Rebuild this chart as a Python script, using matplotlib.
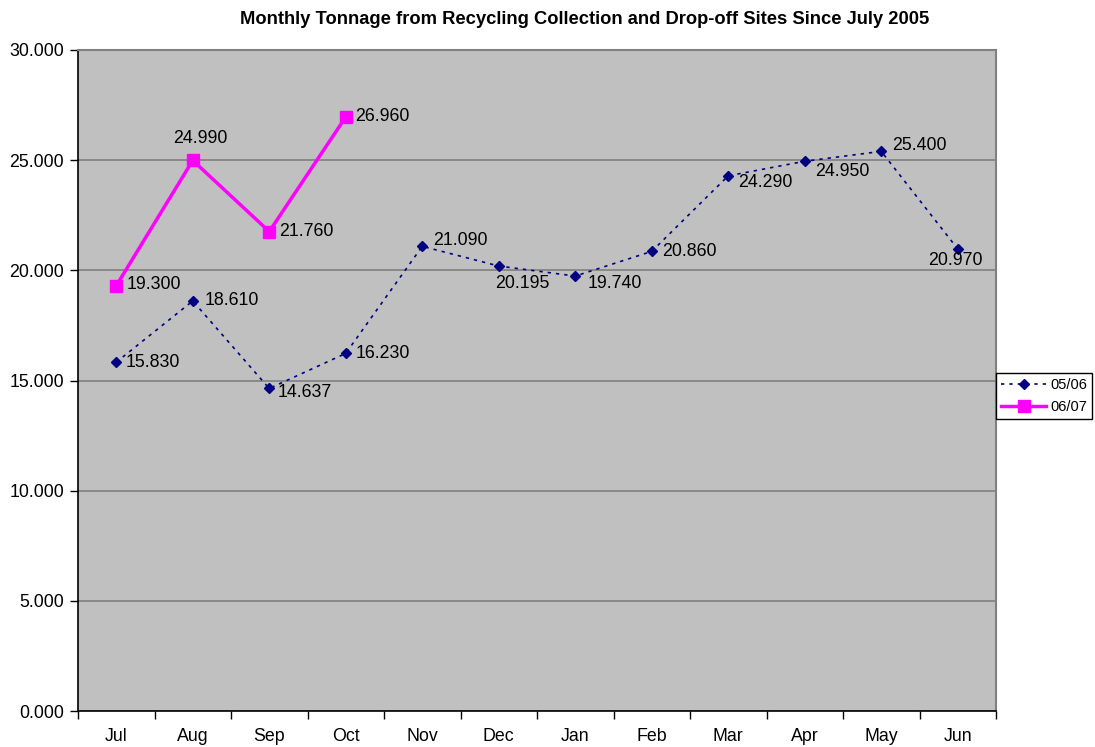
import matplotlib
matplotlib.use("Agg")
import matplotlib.pyplot as plt
from matplotlib.ticker import FixedLocator, NullFormatter, FuncFormatter

plt.rcParams['font.family'] = ['Liberation Sans', 'DejaVu Sans']

months = ["Jul", "Aug", "Sep", "Oct", "Nov", "Dec", "Jan", "Feb", "Mar", "Apr", "May", "Jun"]
s0506 = [15.830, 18.610, 14.637, 16.230, 21.090, 20.195, 19.740, 20.860, 24.290, 24.950, 25.400, 20.970]
s0607 = [19.300, 24.990, 21.760, 26.960]
labels0506 = ["15.830", "18.610", "14.637", "16.230", "21.090", "20.195", "19.740", "20.860",
              "24.290", "24.950", "25.400", "20.970"]
labels0607 = ["19.300", "24.990", "21.760", "26.960"]
yticks = [0, 5, 10, 15, 20, 25, 30]

# label offsets in pixels (dx, dy) and alignment
off0506 = [(9, 0, 'left'), (12, 0, 'left'), (8, -4, 'left'), (10, 0, 'left'),
           (11, 6, 'left'), (-4, -17, 'left'), (12, -7, 'left'), (10, 0, 'left'),
           (10, -7, 'left'), (10, -10, 'left'), (11, 6, 'left'), (-2, -12, 'center')]
off0607 = [(10, 1, 'left'), (8, 22, 'center'), (10, 0, 'left'), (9, 0, 'left')]

fig = plt.figure(figsize=(10.95, 7.47), dpi=100)
ax = fig.add_axes([78/1095, 1-711/747, (996-78)/1095, (711-50)/747])
ax.set_facecolor('#C0C0C0')

x = list(range(len(months)))
ax.plot(x, s0506, color='#000080', linestyle=(0, (2, 3)), linewidth=1.2,
        marker='D', markersize=5, label='05/06', zorder=3)
ax.plot(x[:len(s0607)], s0607, color='#FF00FF', linestyle='-', linewidth=2.5,
        marker='s', markersize=9, label='06/07', zorder=4)

fs = 12.8
for xi, yi, lab, (dx, dy, ha) in zip(x, s0506, labels0506, off0506):
    ax.annotate(lab, (xi, yi), xytext=(dx, dy), textcoords='offset pixels',
                ha=ha, va='center', fontsize=fs, color='black', zorder=5)
for xi, yi, lab, (dx, dy, ha) in zip(x, s0607, labels0607, off0607):
    ax.annotate(lab, (xi, yi), xytext=(dx, dy), textcoords='offset pixels',
                ha=ha, va='center', fontsize=fs, color='black', zorder=5)

ax.set_xlim(-0.5, len(months) - 0.5)
ax.set_ylim(0, 30)
ax.set_yticks(yticks)
ax.yaxis.set_major_formatter(FuncFormatter(lambda v, p: f"{v:.3f}"))
ax.yaxis.grid(True, color='#808080', linewidth=1.2)
ax.set_axisbelow(True)

ax.xaxis.set_major_locator(FixedLocator([i - 0.5 for i in range(len(months) + 1)]))
ax.xaxis.set_major_formatter(NullFormatter())
ax.xaxis.set_minor_locator(FixedLocator(x))
ax.set_xticklabels(months, minor=True)
ax.tick_params(axis='x', which='major', direction='out', length=6, width=1, color='black')
ax.tick_params(axis='x', which='minor', length=0, labelsize=fs, pad=12)
ax.tick_params(axis='y', direction='out', length=6, width=1, labelsize=fs, pad=4)

for sp in ['left', 'bottom']:
    ax.spines[sp].set_color('black')
    ax.spines[sp].set_linewidth(1.2)
for sp in ['top', 'right']:
    ax.spines[sp].set_color('#808080')
    ax.spines[sp].set_linewidth(1.5)

fig.text(585/1095, 1-19/747, "Monthly Tonnage from Recycling Collection and Drop-off Sites Since July 2005",
         ha='center', va='center', fontsize=13.2, fontweight='bold')

leg = fig.legend(loc='center left', bbox_to_anchor=(996/1095, 1-396/747), fontsize=10.5,
                 frameon=True, fancybox=False, edgecolor='black', framealpha=1,
                 handlelength=3.1, borderpad=0.35, labelspacing=0.5, handletextpad=0.25,
                 borderaxespad=0)
leg.get_frame().set_linewidth(1)

fig.savefig('out.png', dpi=100)
